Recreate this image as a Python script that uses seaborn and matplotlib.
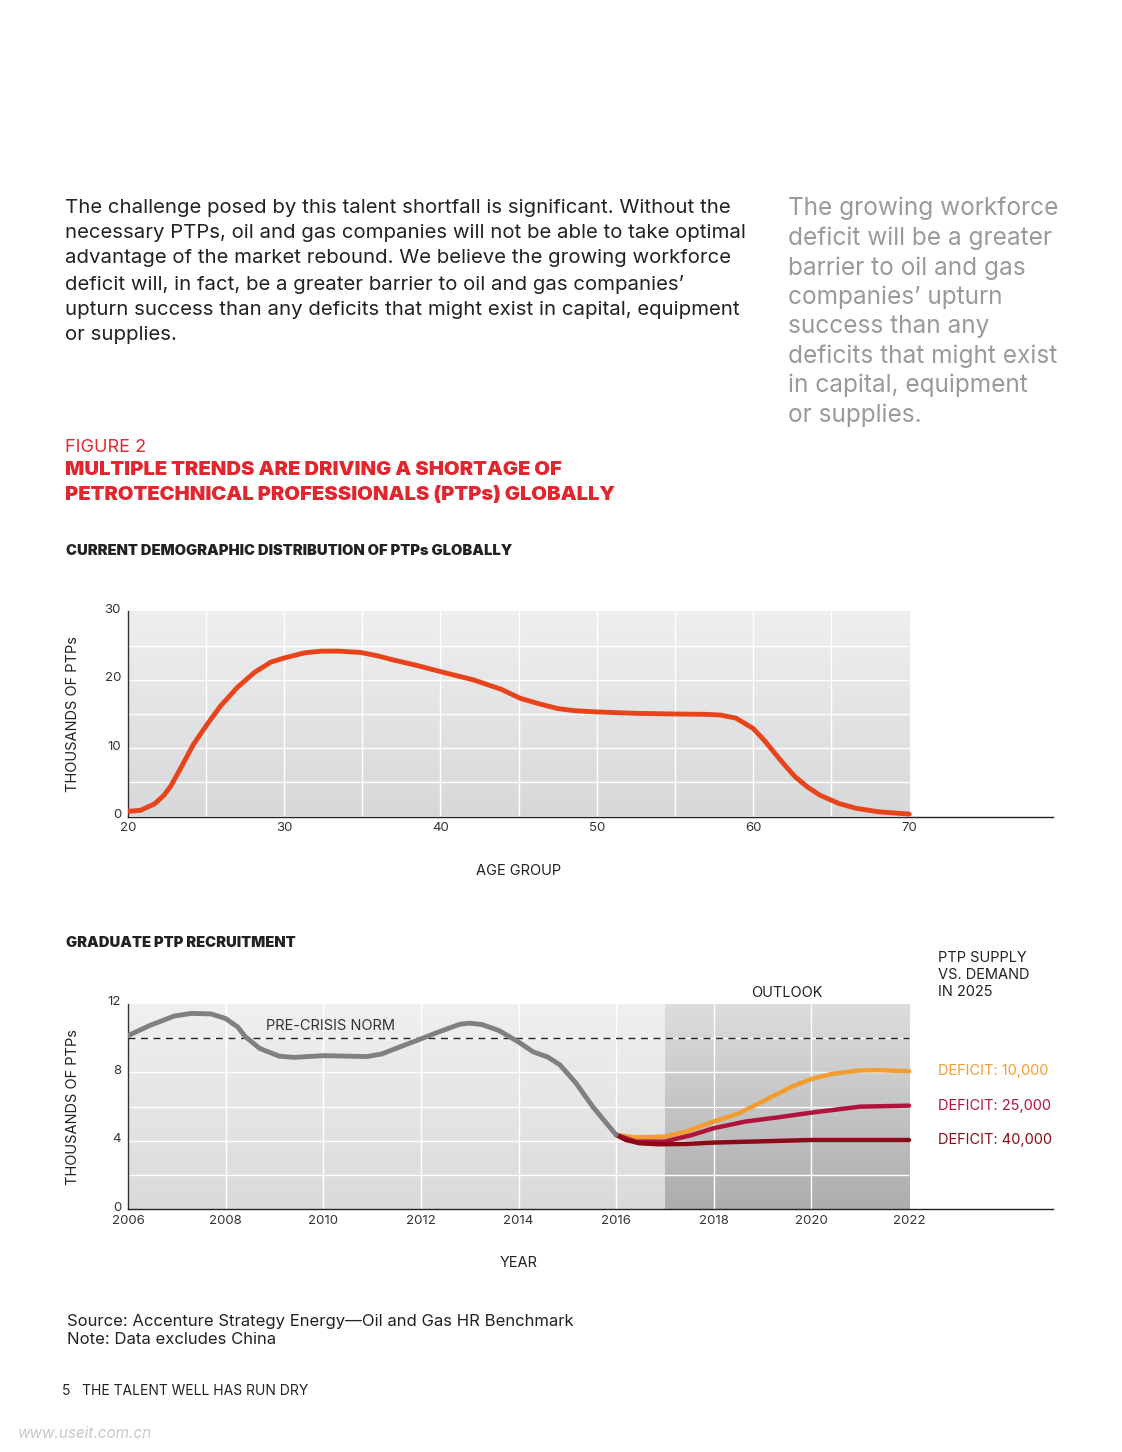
import numpy as np
import matplotlib
matplotlib.use("Agg")
import matplotlib.pyplot as plt
import matplotlib.transforms as mtransforms
import seaborn as sns
from matplotlib.colors import LinearSegmentedColormap

# --- data: age distribution (thousands of PTPs) ---
age = [20, 20.8, 21.7, 22.3, 22.75, 23.4, 24.2, 25.1, 25.9, 27.0, 28.1, 29.15,
       30, 31.3, 32.4, 33.5, 34.9, 36, 37, 38.5, 40, 42.1, 43.9, 45.1, 46.3,
       47.5, 48.5, 50, 52.5, 55, 57, 57.9, 58.9, 60, 60.7, 61.4, 62, 62.7,
       63.5, 64.3, 65.5, 66.6, 68, 70]
ptps = [0.75, 0.9, 1.85, 3.1, 4.5, 7.2, 10.6, 13.6, 16.1, 18.9, 21.1, 22.6,
        23.2, 23.95, 24.2, 24.2, 24.0, 23.5, 22.9, 22.1, 21.2, 20.0, 18.6,
        17.3, 16.5, 15.8, 15.5, 15.3, 15.1, 15.0, 14.95, 14.85, 14.4, 12.9,
        11.2, 9.25, 7.6, 5.8, 4.3, 3.1, 1.9, 1.2, 0.7, 0.35]

# --- data: graduate recruitment (thousands of PTPs) ---
hist_year = [2006, 2006.45, 2006.95, 2007.3, 2007.7, 2008.0, 2008.25, 2008.4,
             2008.7, 2009.1, 2009.4, 2010, 2010.9, 2011.2, 2011.55, 2012,
             2012.35, 2012.8, 2013, 2013.25, 2013.6, 2014, 2014.3, 2014.6,
             2014.85, 2015.18, 2015.52, 2016]
hist_val = [10.15, 10.75, 11.3, 11.45, 11.42, 11.15, 10.65, 10.1, 9.4, 8.95,
            8.88, 8.98, 8.93, 9.08, 9.47, 9.96, 10.35, 10.82, 10.88, 10.8,
            10.45, 9.78, 9.2, 8.9, 8.44, 7.37, 6.0, 4.35]

s1_year = [2016, 2016.4, 2017.0, 2017.43, 2018, 2018.52, 2019.06, 2019.6,
           2020, 2020.42, 2020.97, 2021.37, 2022]
s1_val = [4.35, 4.2, 4.25, 4.54, 5.13, 5.61, 6.39, 7.17, 7.62, 7.91, 8.11,
          8.13, 8.07]
s2_year = [2016, 2016.4, 2017.0, 2017.56, 2018, 2018.65, 2019.33, 2020,
           2021, 2022]
s2_val = [4.35, 3.96, 3.96, 4.35, 4.74, 5.13, 5.38, 5.65, 6.0, 6.06]
s3_year = [2016, 2016.2, 2016.48, 2016.88, 2017.43, 2018, 2020, 2022]
s3_val = [4.35, 4.05, 3.86, 3.8, 3.82, 3.9, 4.05, 4.05]

pre_crisis_norm = 10
deficit_labels = ["DEFICIT: 10,000", "DEFICIT: 25,000", "DEFICIT: 40,000"]

RED = "#e3262d"
ORANGE_RED = "#e8441c"
GRAY = "#808080"
C1, C2, C3 = "#f39c2f", "#b0143c", "#8a0a16"
TXT = "#222222"

sns.set_theme(style="white")
plt.rcParams["font.family"] = ["Inter", "DejaVu Sans"]

fig = plt.figure(figsize=(11.22, 14.52), dpi=100)
W, H = 1122, 1452


def ftext(x, y, s, **kw):
    fig.text(x / W, 1 - y / H, s, **kw)


def shade(ax, extent, top, bottom, z=0):
    cm = LinearSegmentedColormap.from_list("g", [bottom, top])
    grad = np.linspace(0, 1, 256).reshape(-1, 1)
    ax.imshow(grad, extent=extent, origin="lower", aspect="auto", cmap=cm,
              zorder=z, interpolation="bicubic")


# ---------- page text ----------
body = ("The challenge posed by this talent shortfall is significant. Without the\n"
        "necessary PTPs, oil and gas companies will not be able to take optimal\n"
        "advantage of the market rebound. We believe the growing workforce\n"
        "deficit will, in fact, be a greater barrier to oil and gas companies\u2019\n"
        "upturn success than any deficits that might exist in capital, equipment\n"
        "or supplies.")
ftext(65, 199, body, fontsize=14.66, color=TXT, va="top", linespacing=1.51)

quote = ("The growing workforce\ndeficit will be a greater\nbarrier to oil and gas\n"
         "companies\u2019 upturn\nsuccess than any\ndeficits that might exist\n"
         "in capital, equipment\nor supplies.")
ftext(788, 197, quote, fontsize=17.6, color="#9a9a9a", va="top",
      linespacing=1.327)

ftext(65, 447, "FIGURE 2", fontsize=13, color=RED, va="center")
ftext(65, 461, "MULTIPLE TRENDS ARE DRIVING A SHORTAGE OF\n"
               "PETROTECHNICAL PROFESSIONALS (PTPs) GLOBALLY",
      fontsize=14.5, color=RED, fontweight="black", va="top", linespacing=1.5)
ftext(66, 551, "CURRENT DEMOGRAPHIC DISTRIBUTION OF PTPs GLOBALLY",
      fontsize=10.6, color=TXT, fontweight="black", va="center")
ftext(66, 943, "GRADUATE PTP RECRUITMENT", fontsize=10.6, color=TXT,
      fontweight="black", va="center")

# ---------- top chart ----------
ax1 = fig.add_axes([128 / W, 1 - 816.5 / H, 925 / W, 205 / H])
shade(ax1, [20, 70, 0, 30], "#efeff0", "#d7d8da")
ax1.hlines(np.arange(5, 30, 5), 20, 70, color="white", lw=1, zorder=1)
ax1.vlines(np.arange(25, 70, 5), 0, 30, color="white", lw=1, zorder=1)
sns.lineplot(x=age, y=ptps, ax=ax1, color=ORANGE_RED, linewidth=3.5, zorder=3)
ax1.set_xlim(20, 79.2)
ax1.set_ylim(0, 30)
ax1.set_xticks([20, 30, 40, 50, 60, 70])
ax1.set_yticks([0, 10, 20, 30])
ax1.set_xlabel("AGE GROUP", fontsize=10.5, color=TXT)
ax1.set_ylabel("THOUSANDS OF PTPs", fontsize=10.5, color=TXT)
ax1.xaxis.set_label_coords(0.4227, -0.232)
ax1.yaxis.set_label_coords(-0.052, 0.5)

# ---------- bottom chart ----------
ax2 = fig.add_axes([128 / W, 1 - 1209.3 / H, 925 / W, 205.3 / H])
shade(ax2, [2006, 2017, 0, 12], "#f0f0f0", "#dadadb")
shade(ax2, [2017, 2022, 0, 12], "#dddddd", "#acadaf")
ax2.hlines(np.arange(2, 12, 2), 2006, 2022, color="white", lw=1, zorder=1)
ax2.vlines(np.arange(2008, 2022, 2), 0, 12, color="white", lw=1, zorder=1)
ax2.hlines(pre_crisis_norm, 2006, 2022, color="#222222", lw=1,
           linestyles=(0, (5, 4)), zorder=2)
ax2.text(2008.83, pre_crisis_norm + 0.3, "PRE-CRISIS NORM", fontsize=10.5,
         color="#333333", va="bottom")
sns.lineplot(x=s1_year, y=s1_val, ax=ax2, color=C1, linewidth=3.2, zorder=3)
sns.lineplot(x=s2_year, y=s2_val, ax=ax2, color=C2, linewidth=3.2, zorder=4)
sns.lineplot(x=s3_year, y=s3_val, ax=ax2, color=C3, linewidth=3.2, zorder=5)
sns.lineplot(x=hist_year, y=hist_val, ax=ax2, color=GRAY, linewidth=3.5, zorder=6)
ax2.set_xlim(2006, 2024.95)
ax2.set_ylim(0, 12)
ax2.set_xticks(np.arange(2006, 2023, 2))
ax2.set_yticks([0, 4, 8, 12])
ax2.set_xlabel("YEAR", fontsize=10.5, color=TXT)
ax2.set_ylabel("THOUSANDS OF PTPs", fontsize=10.5, color=TXT)
ax2.xaxis.set_label_coords(0.4227, -0.227)
ax2.yaxis.set_label_coords(-0.052, 0.5)
ax2.text(2019.5, 12.25, "OUTLOOK", fontsize=10.5, color=TXT, ha="center",
         va="bottom")
ax2.text(2022.6, 12.3, "PTP SUPPLY\nVS. DEMAND\nIN 2025", fontsize=10.5,
         color=TXT, va="bottom", linespacing=1.27)
for lab, yv, col in zip(deficit_labels, [s1_val[-1], s2_val[-1], s3_val[-1]],
                        [C1, C2, C3]):
    ax2.text(2022.6, yv, lab, fontsize=10.5, color=col, va="center")

lift = mtransforms.ScaledTranslation(0, 3 / 100, fig.dpi_scale_trans)
for ax in (ax1, ax2):
    for side in ("top", "right"):
        ax.spines[side].set_visible(False)
    ax.spines["left"].set_color("#333333")
    ax.spines["bottom"].set_color("#222222")
    ax.spines["left"].set_linewidth(1)
    ax.spines["bottom"].set_linewidth(1)
    ax.tick_params(length=0, labelsize=9.5, colors="#333333")
    ax.tick_params(axis="x", pad=4)
    ax.tick_params(axis="y", pad=5)
    for lab in ax.get_yticklabels():
        lab.set_transform(lab.get_transform() + lift)

# ---------- footer ----------
ftext(67, 1314, "Source: Accenture Strategy Energy\u2014Oil and Gas HR Benchmark\n"
                "Note: Data excludes China", fontsize=12, color=TXT,
      va="top", linespacing=1.28)
ftext(62, 1391, "5   THE TALENT WELL HAS RUN DRY", fontsize=10, color=TXT,
      va="center")
ftext(18, 1434, "www.useit.com.cn", fontsize=11, color="#c8c8c8", va="center",
      style="italic")

fig.savefig("out.png", dpi=100)
